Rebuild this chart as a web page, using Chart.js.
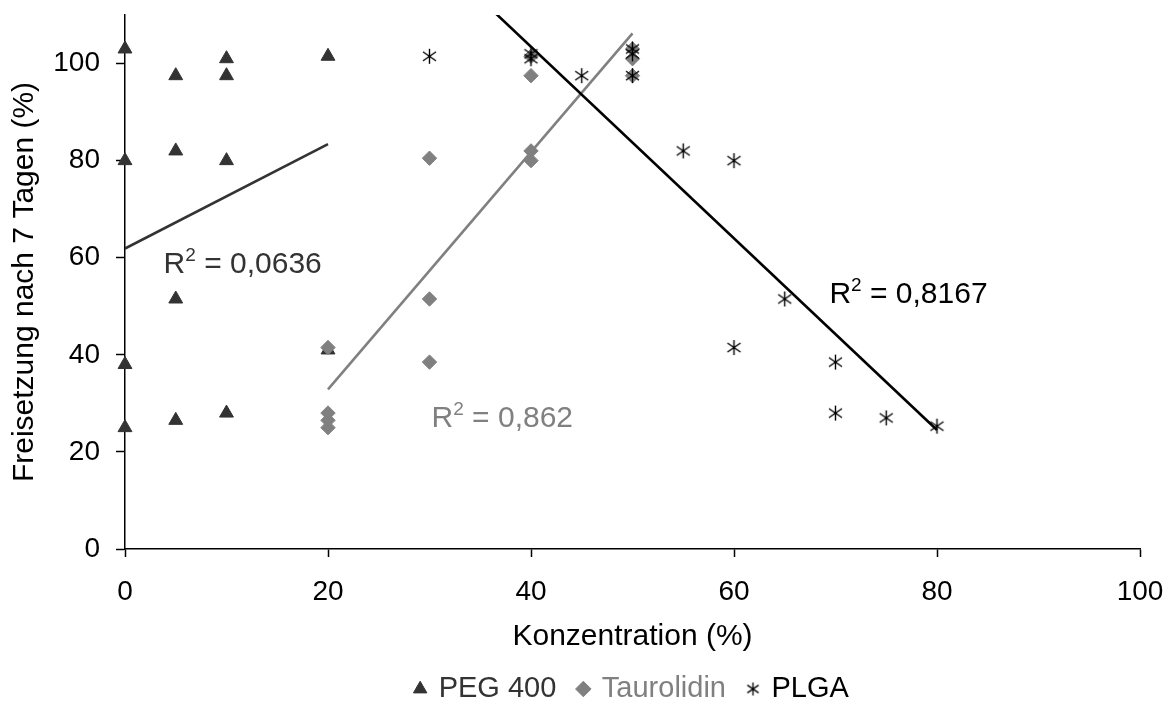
<!DOCTYPE html>
<html>
<head>
<meta charset="utf-8">
<title>Freisetzung nach 7 Tagen</title>
<script src="https://cdn.jsdelivr.net/npm/chart.js@4.4.1/dist/chart.umd.min.js"></script>
<style>
  html, body { margin: 0; padding: 0; background: #fff; }
</style>
</head>
<body>
<canvas id="chart" width="1169" height="704"></canvas>
<script>
// values
const pegX = [0, 0, 0, 0, 5, 5, 5, 5, 10, 10, 10, 10, 20, 20]
const pegY = [103, 80, 38, 25, 97.5, 82, 51.5, 26.5, 101, 97.5, 80, 28, 101.5, 41]

const taurX = [20, 20, 20, 20, 30, 30, 30, 40, 40, 40, 40, 50, 50, 50]
const taurY = [41.5, 28, 26.5, 25, 80.5, 51.5, 38.5, 101.5, 97.5, 82, 80, 103, 101, 97.5]

const plgaX = [30, 40, 40, 45, 50, 50, 50, 55, 60, 60, 65, 70, 70, 75, 80]
const plgaY = [101.5, 101, 102, 97.5, 103, 102, 97.5, 82, 80, 41.5, 51.5, 38.5, 28, 27, 25.3]

// linear trend lines (end points as drawn in the original)
const pegTrendX = [0, 20]
const pegTrendY = [61.9, 83.4]
const taurTrendX = [20, 50]
const taurTrendY = [32.9, 106.2]
const plgaTrendX = [30, 80]
const plgaTrendY = [123.2, 24.5]

const seriesNames = ['PEG 400', 'Taurolidin', 'PLGA']
const r2Values = ['0,0636', '0,862', '0,8167']

const xTicks = [0, 20, 40, 60, 80, 100]
const yTicks = [0, 20, 40, 60, 80, 100]

const FONT = '"Liberation Sans", Arial, Helvetica, sans-serif'
const colPeg = '#333333'
const colTaur = '#808080'
const colPlga = '#000000'

const pts = (xs, ys) => xs.map((x, i) => ({x: x, y: ys[i]}))

// Excel style asterisk: X with a vertical bar
function asterisk(size, lw){
  const c = document.createElement('canvas')
  c.width = size
  c.height = size
  const g = c.getContext('2d')
  const m = size / 2
  const r = size / 2 - 1
  g.strokeStyle = '#000'
  g.lineWidth = lw
  g.beginPath()
  g.moveTo(m, m - r); g.lineTo(m, m + r)
  g.moveTo(m - r * 0.87, m - r * 0.6); g.lineTo(m + r * 0.87, m + r * 0.6)
  g.moveTo(m - r * 0.87, m + r * 0.6); g.lineTo(m + r * 0.87, m - r * 0.6)
  g.stroke()
  return c
}
const starBig = asterisk(17, 1.4)
const starSmall = asterisk(15, 1.3)

// R² labels, placed in data coordinates
const r2Plugin = {
  id: 'r2',
  afterDatasetsDraw(chart, args, opts){
    const {ctx, scales: {x, y}} = chart
    ctx.save()
    ctx.textBaseline = 'alphabetic'
    ctx.textAlign = 'left'
    opts.items.forEach(item => {
      let px = x.getPixelForValue(item.x)
      const py = y.getPixelForValue(item.y)
      ctx.fillStyle = item.color
      ctx.font = '30px ' + FONT
      ctx.fillText('R', px, py)
      px += ctx.measureText('R').width
      ctx.font = '19px ' + FONT
      ctx.fillText('2', px, py - 12)
      px += ctx.measureText('2').width
      ctx.font = '30px ' + FONT
      ctx.fillText(' = ' + item.text, px, py)
    })
    ctx.restore()
  }
}

// move the legend row down a little, as in the original
const legendShift = {
  id: 'legendShift',
  afterLayout(chart, args, opts){
    chart.legend.top += opts.dy
    chart.legend.bottom += opts.dy
  }
}

Chart.defaults.font.family = FONT
Chart.defaults.color = '#000'

const ctx = document.getElementById('chart')
const chart = new Chart(ctx, {
  type: 'scatter',
  data: {
    datasets: [
      {
        label: seriesNames[0],
        data: pts(pegX, pegY),
        pointStyle: 'triangle',
        pointRadius: 8,
        backgroundColor: colPeg,
        borderColor: colPeg,
        borderWidth: 1,
        clip: false,
        order: 6
      },
      {
        label: seriesNames[1],
        data: pts(taurX, taurY),
        pointStyle: 'rectRot',
        pointRadius: 7.2,
        backgroundColor: colTaur,
        borderColor: colTaur,
        borderWidth: 1,
        clip: false,
        order: 5
      },
      {
        label: seriesNames[2],
        data: pts(plgaX, plgaY),
        pointStyle: starBig,
        pointRadius: 8,
        backgroundColor: colPlga,
        borderColor: colPlga,
        clip: false,
        order: 4
      },
      {
        label: 'trend PEG',
        data: pts(pegTrendX, pegTrendY),
        showLine: true,
        borderColor: colPeg,
        borderWidth: 2.6,
        pointRadius: 0,
        order: 3
      },
      {
        label: 'trend Taurolidin',
        data: pts(taurTrendX, taurTrendY),
        showLine: true,
        borderColor: colTaur,
        borderWidth: 2.6,
        pointRadius: 0,
        order: 2
      },
      {
        label: 'trend PLGA',
        data: pts(plgaTrendX, plgaTrendY),
        showLine: true,
        borderColor: colPlga,
        borderWidth: 2.6,
        pointRadius: 0,
        order: 1
      }
    ]
  },
  options: {
    responsive: false,
    animation: false,
    layout: {padding: {top: 15, right: 29, bottom: 0, left: 0}},
    scales: {
      x: {
        type: 'linear',
        min: 0,
        max: 100,
        afterBuildTicks: s => { s.ticks = xTicks.map(v => ({value: v})) },
        afterFit: s => {
          s.height = 93
          s.paddingLeft = 0
          s.paddingRight = 0
        },
        border: {display: true, color: '#000', width: 1.5},
        grid: {drawOnChartArea: false, drawTicks: true, tickLength: 8, tickColor: '#000', tickWidth: 1.5},
        ticks: {padding: 21, font: {size: 28, lineHeight: 1}, color: '#000'},
        title: {display: true, text: 'Konzentration (%)', font: {size: 30, lineHeight: 1}, color: '#000', padding: {top: 0, bottom: -10}}
      },
      y: {
        type: 'linear',
        min: 0,
        max: 110,
        afterBuildTicks: s => { s.ticks = yTicks.map(v => ({value: v})) },
        afterFit: s => {
          s.width = 125
          s.paddingTop = 0
          s.paddingBottom = 0
        },
        border: {display: true, color: '#000', width: 1.5},
        grid: {drawOnChartArea: false, drawTicks: true, tickLength: 9, tickColor: '#000', tickWidth: 1.5},
        ticks: {padding: 16, font: {size: 28, lineHeight: 1}, color: '#000'},
        title: {display: true, text: 'Freisetzung nach 7 Tagen (%)', font: {size: 30}, color: '#000', padding: {top: 7, bottom: 0}}
      }
    },
    plugins: {
      tooltip: {enabled: false},
      legend: {
        position: 'bottom',
        fullSize: false,
        labels: {
          usePointStyle: true,
          boxWidth: 8,
          boxHeight: 11,
          padding: 23,
          font: {size: 29},
          sort: (a, b) => a.datasetIndex - b.datasetIndex,
          filter: item => item.datasetIndex < 3,
          generateLabels(chart){
            const items = Chart.defaults.plugins.legend.labels.generateLabels(chart)
            const colors = [colPeg, colTaur, colPlga]
            items.forEach(it => {
              it.fontColor = colors[it.datasetIndex] || '#000'
              if (it.datasetIndex === 2) it.pointStyle = starSmall
            })
            return items
          }
        }
      },
      legendShift: {dy: 9.5},
      r2: {
        items: [
          {text: r2Values[0], x: 3.8, y: 56.9, color: colPeg},
          {text: r2Values[1], x: 30.2, y: 25.2, color: colTaur},
          {text: r2Values[2], x: 69.4, y: 50.7, color: colPlga}
        ]
      }
    }
  },
  plugins: [r2Plugin, legendShift]
})
</script>
</body>
</html>
